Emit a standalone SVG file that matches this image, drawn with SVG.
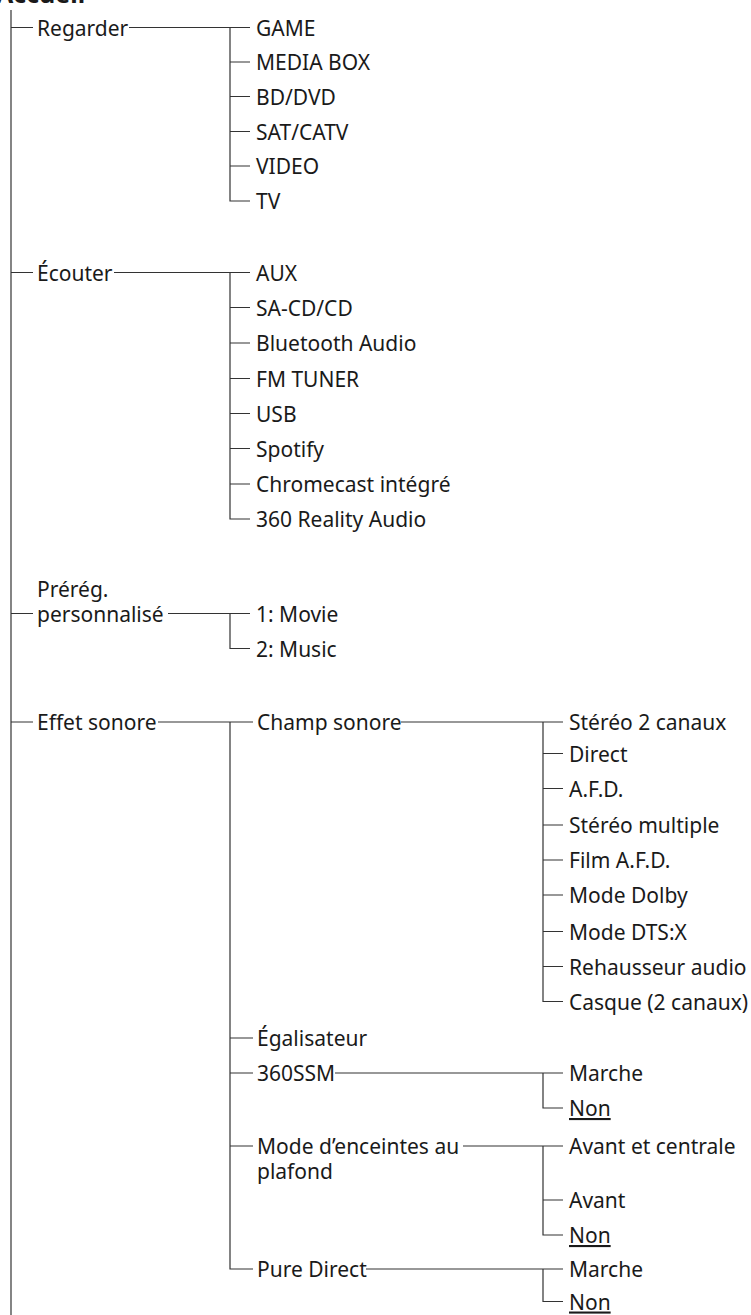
<svg xmlns="http://www.w3.org/2000/svg" width="751" height="1315" viewBox="0 0 751 1315">
<style>
.t{font-family:"Noto Sans","Open Sans",sans-serif;font-size:21px;fill:#1a1a1a}
.title{font-family:"Noto Sans","Open Sans",sans-serif;font-size:25px;font-weight:bold;fill:#1a1a1a}
.u{text-decoration:underline}
.c{fill:none;stroke:#333;stroke-width:1.2}
</style>
<rect width="751" height="1315" fill="#fff"/>
<text class="title" x="-4" y="3">Accueil</text>
<g id="connectors" class="c">
<path d="M11 10 V1315"/>
<path d="M11 27.5 H33 M129 27.5 H250 M230 27.5 V201 H250 M230 62 H250 M230 96.5 H250 M230 131.5 H250 M230 166 H250"/>
<path d="M11 272.5 H33 M114 272.5 H250 M230 272.5 V519 H250 M230 307.5 H250 M230 343 H250 M230 378.5 H250 M230 413.5 H250 M230 448.5 H250 M230 484 H250"/>
<path d="M11 613.5 H33 M168 613.5 H250 M230 613.5 V648.5 H250"/>
<path d="M11 722 H33 M158 722 H253 M230 722 V1269 H253 M230 1038 H253 M230 1073 H253 M230 1146 H253"/>
<path d="M401 722 H563 M543 722 V1001.5 H563 M543 753.5 H563 M543 788.5 H563 M543 825 H563 M543 860 H563 M543 895 H563 M543 931.5 H563 M543 966.5 H563"/>
<path d="M335 1073 H563 M543 1073 V1108 H563"/>
<path d="M463 1146 H563 M543 1146 V1235 H563 M543 1200 H563"/>
<path d="M366 1269 H563 M543 1269 V1301.5 H563"/>
</g>
<g id="regarder">
<text class="t" x="37" y="35.5">Regarder</text>
<text class="t" x="256" y="35.5">GAME</text>
<text class="t" x="256" y="70">MEDIA BOX</text>
<text class="t" x="256" y="104.5">BD/DVD</text>
<text class="t" x="256" y="139.5">SAT/CATV</text>
<text class="t" x="256" y="174">VIDEO</text>
<text class="t" x="256" y="209">TV</text>
</g>
<g id="ecouter">
<text class="t" x="37" y="280.5">Écouter</text>
<text class="t" x="256" y="280.5">AUX</text>
<text class="t" x="256" y="315.5">SA-CD/CD</text>
<text class="t" x="256" y="351">Bluetooth Audio</text>
<text class="t" x="256" y="386.5">FM TUNER</text>
<text class="t" x="256" y="421.5">USB</text>
<text class="t" x="256" y="456.5">Spotify</text>
<text class="t" x="256" y="492">Chromecast intégré</text>
<text class="t" x="256" y="527">360 Reality Audio</text>
</g>
<g id="prereg">
<text class="t" x="37" y="597">Prérég.</text>
<text class="t" x="37" y="621.5">personnalisé</text>
<text class="t" x="256" y="621.5">1: Movie</text>
<text class="t" x="256" y="656.5">2: Music</text>
</g>
<g id="effet">
<text class="t" x="37" y="730">Effet sonore</text>
</g>
<g id="champ">
<text class="t" x="257" y="730">Champ sonore</text>
<text class="t" x="569" y="730">Stéréo 2 canaux</text>
<text class="t" x="569" y="761.5">Direct</text>
<text class="t" x="569" y="796.5">A.F.D.</text>
<text class="t" x="569" y="833">Stéréo multiple</text>
<text class="t" x="569" y="868">Film A.F.D.</text>
<text class="t" x="569" y="903">Mode Dolby</text>
<text class="t" x="569" y="939.5">Mode DTS:X</text>
<text class="t" x="569" y="974.5">Rehausseur audio</text>
<text class="t" x="569" y="1009.5">Casque (2 canaux)</text>
</g>
<g id="egal">
<text class="t" x="257" y="1046">Égalisateur</text>
</g>
<g id="ssm">
<text class="t" x="257" y="1081">360SSM</text>
<text class="t" x="569" y="1081">Marche</text>
<text class="t u" x="569" y="1116">Non</text>
</g>
<g id="plafond">
<text class="t" x="257" y="1154">Mode d’enceintes au</text>
<text class="t" x="257" y="1179">plafond</text>
<text class="t" x="569" y="1154">Avant et centrale</text>
<text class="t" x="569" y="1208">Avant</text>
<text class="t u" x="569" y="1243">Non</text>
</g>
<g id="pure">
<text class="t" x="257" y="1277">Pure Direct</text>
<text class="t" x="569" y="1277">Marche</text>
<text class="t u" x="569" y="1309.5">Non</text>
</g>
</svg>
